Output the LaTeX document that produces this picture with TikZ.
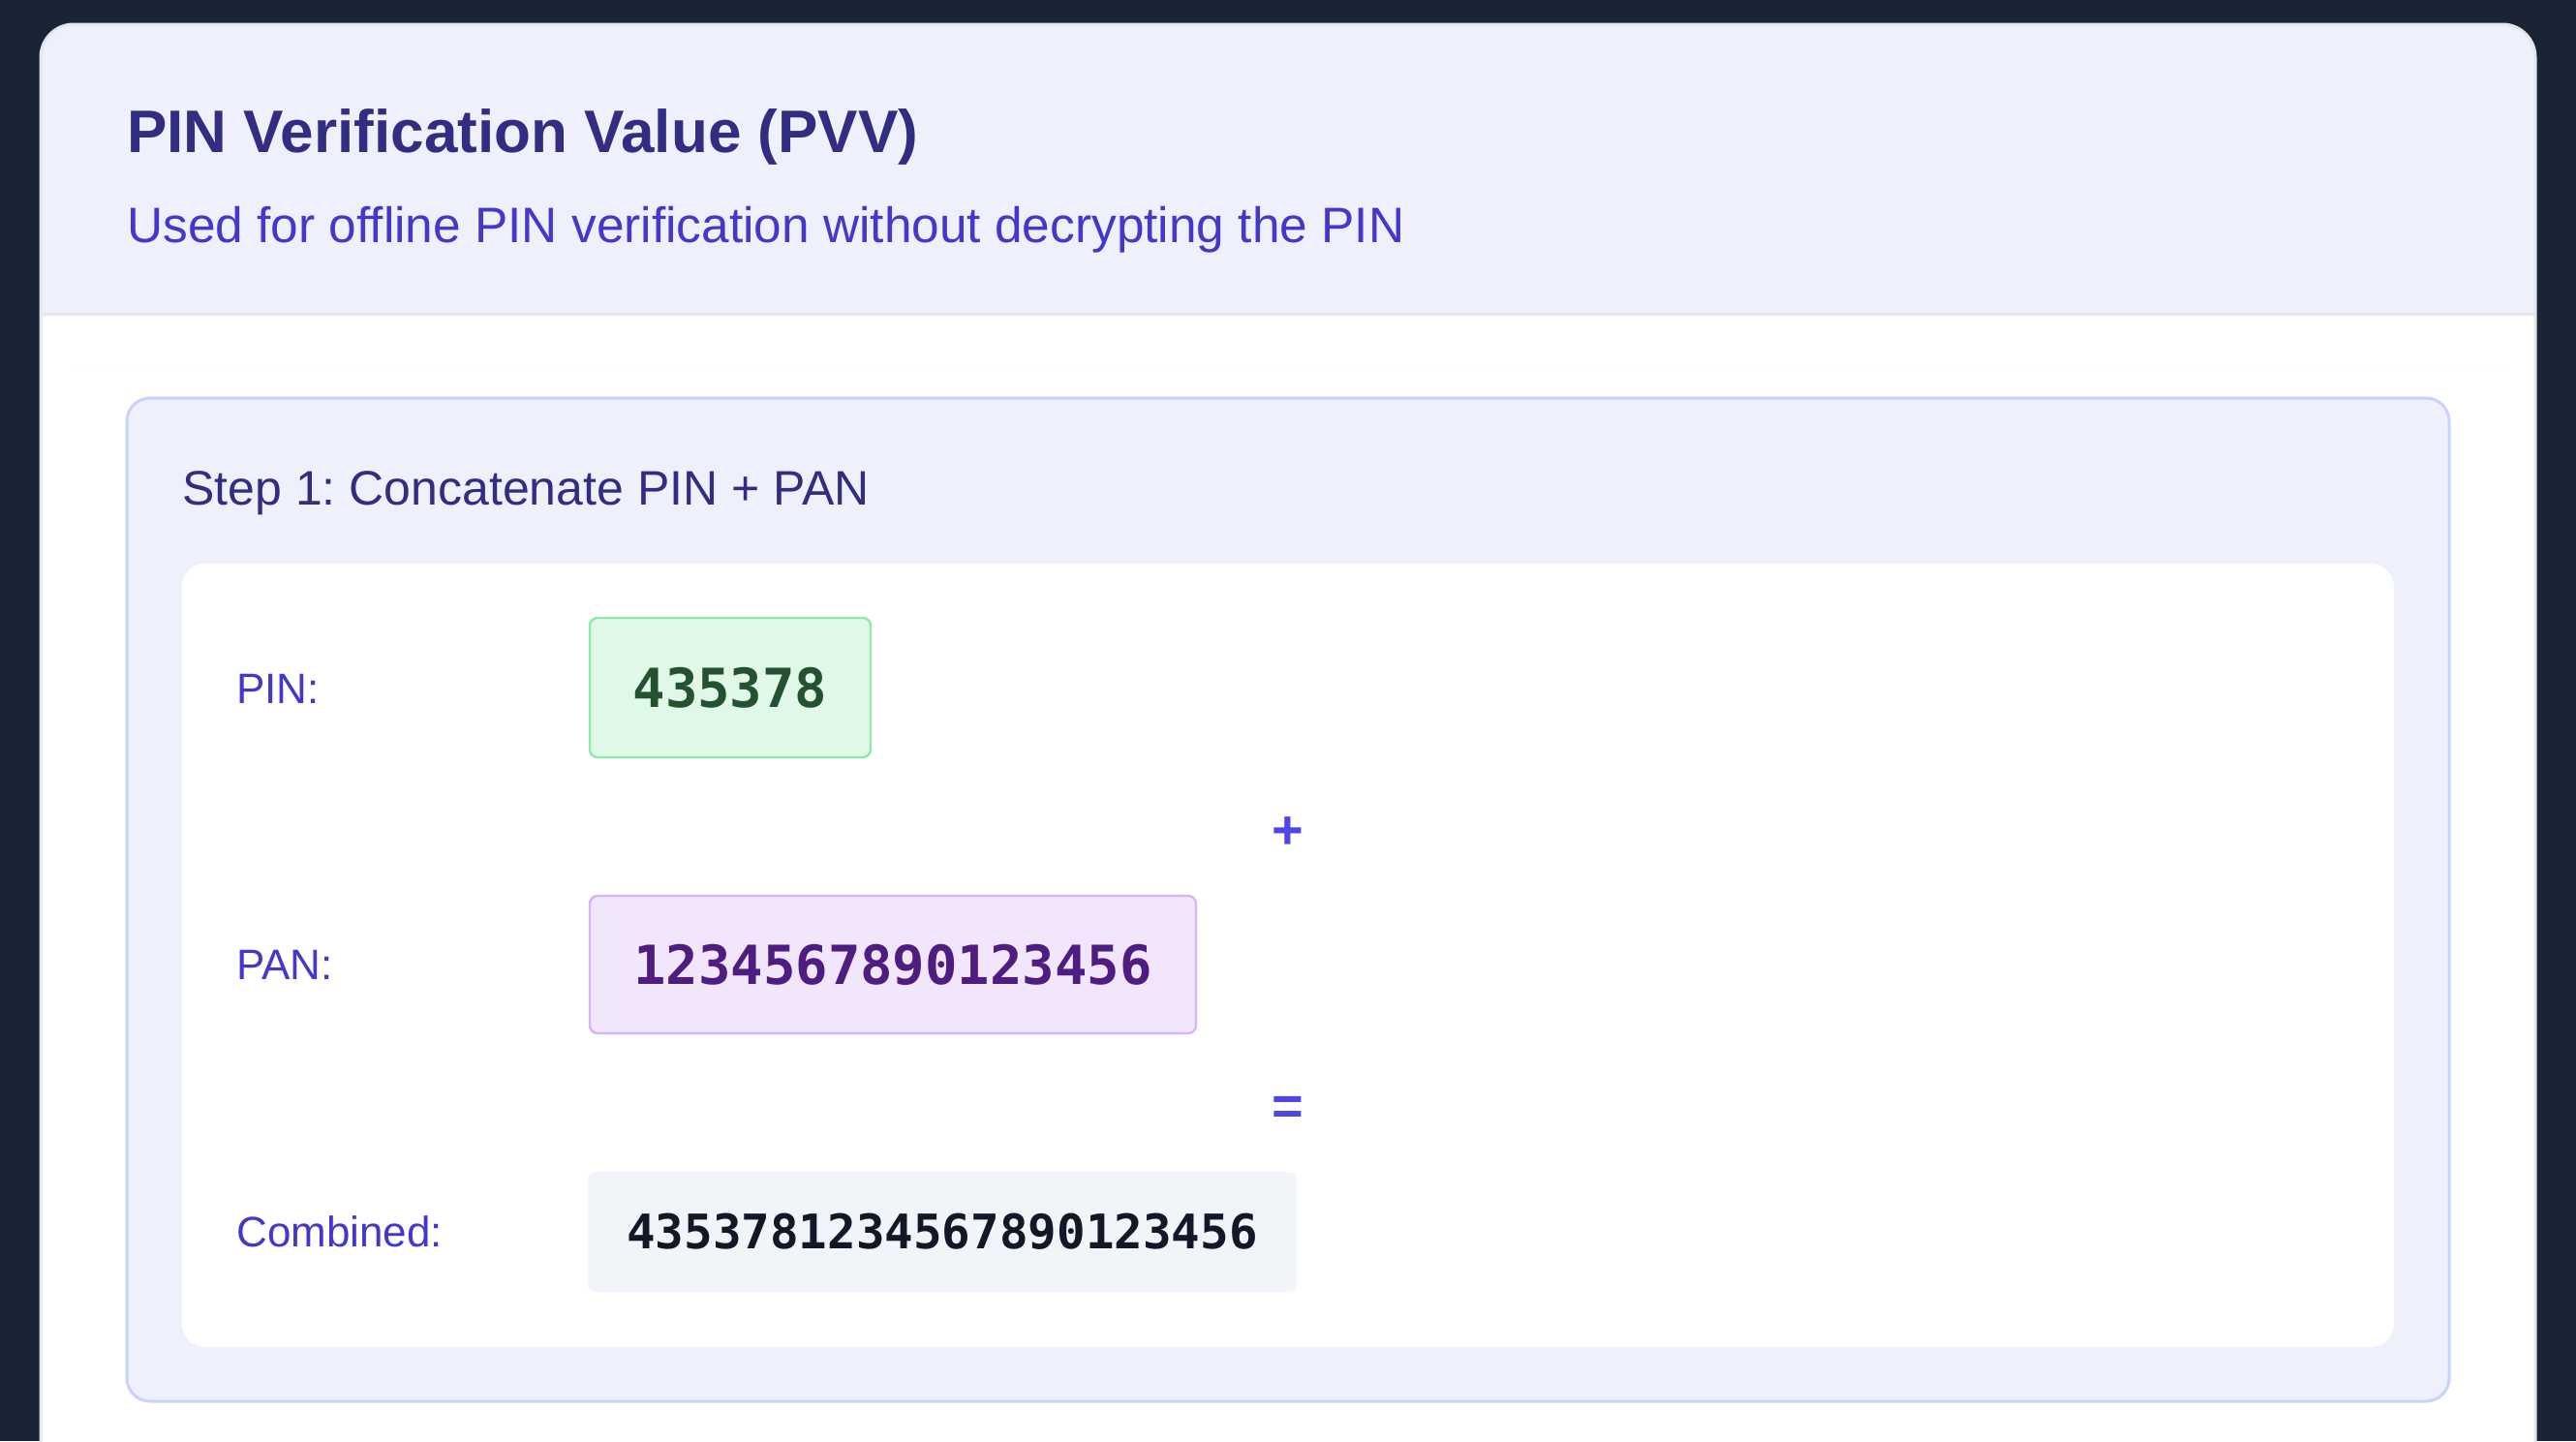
\documentclass[tikz,border=0pt]{standalone}
\usepackage{fontspec}
\setmainfont{Liberation Sans}
\setmonofont{DejaVu Sans Mono}
\usepackage{tikz}
\frenchspacing

\definecolor{pagebg}{HTML}{1B2337}
\definecolor{headbg}{HTML}{EEF0FC}
\definecolor{cardline}{HTML}{E2E6EF}
\definecolor{titlec}{HTML}{312E81}
\definecolor{subc}{HTML}{4338CA}
\definecolor{opc}{HTML}{4F46E5}
\definecolor{stepline}{HTML}{C7D2FE}
\definecolor{pinbg}{HTML}{E0F8E8}
\definecolor{pinline}{HTML}{8EEAA8}
\definecolor{pintext}{HTML}{24512F}
\definecolor{panbg}{HTML}{F1E6FC}
\definecolor{panline}{HTML}{D6B4F8}
\definecolor{pantext}{HTML}{4F1D80}
\definecolor{combbg}{HTML}{F1F4F8}
\definecolor{combtext}{HTML}{111827}

\tikzset{
  lbl/.style={anchor=west,inner sep=0pt,text=subc,font=\fontsize{22}{26}\selectfont},
  valbox/.style={rounded corners=4pt,line width=1.2pt,inner sep=0pt,
    font=\ttfamily\bfseries\fontsize{27.8}{30}\selectfont},
  oper/.style={inner sep=0pt,text=opc,font=\bfseries\fontsize{28}{30}\selectfont}
}

\begin{document}
\begin{tikzpicture}[x=0.5pt,y=-0.5pt]
\clip (0,0) rectangle (2660,1488);
\fill[pagebg] (0,0) rectangle (2660,1488);

% card with header band
\fill[white,rounded corners=17pt] (42,25) rectangle (2618,1600);
\fill[headbg,rounded corners=17pt] (42,25) rectangle (2618,380);
\fill[white] (42,326) rectangle (2618,380);
\draw[cardline,line width=1.5pt] (42,324) -- (2618,324);
\draw[cardline,line width=1.5pt,rounded corners=17pt] (42,25) rectangle (2618,1600);

\node[anchor=west,inner sep=0pt,text=titlec,font=\bfseries\fontsize{31}{36}\selectfont] (title) at (131,141) {PIN Verification Value (PVV)};
\node[anchor=west,inner sep=0pt,text=subc,font=\fontsize{25.7}{30}\selectfont] (subtitle) at (131,237) {Used for offline PIN verification without decrypting the PIN};

% step 1
\draw[stepline,fill=headbg,line width=1.5pt,rounded corners=12pt] (131,411) rectangle (2529,1447);
\node[anchor=west,inner sep=0pt,text=titlec,font=\fontsize{25}{30}\selectfont] (steptitle) at (188,509) {Step 1: Concatenate PIN + PAN};
\fill[white,rounded corners=12pt] (188,582) rectangle (2472,1391);

\node[lbl] (pinlbl) at (244,711) {PIN:};
\node[valbox,draw=pinline,fill=pinbg,text=pintext,minimum width=145pt,minimum height=72pt] (pin) at (754,710) {435378};
\node[oper] (plus) at (1330,860) {+};
\node[lbl] (panlbl) at (244,996) {PAN:};
\node[valbox,draw=panline,fill=panbg,text=pantext,minimum width=313pt,minimum height=71pt] (pan) at (922,996) {1234567890123456};
\node[oper] (equals) at (1330,1147) {=};
\node[lbl] (comblbl) at (244,1272) {Combined:};
\node[valbox,fill=combbg,text=combtext,minimum width=366pt,minimum height=62pt,font=\ttfamily\bfseries\fontsize{24.6}{28}\selectfont] (comb) at (973,1272) {4353781234567890123456};
\end{tikzpicture}
\end{document}
